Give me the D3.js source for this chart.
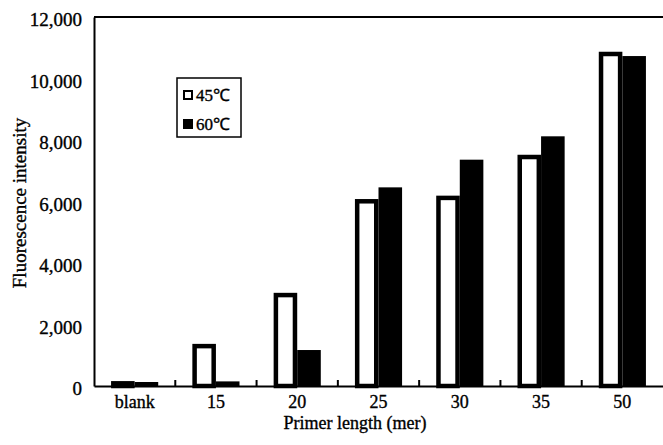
<!DOCTYPE html>
<html lang="en">
<head>
<meta charset="UTF-8">
<title>Fluorescence intensity vs primer length</title>
<script src="https://cdn.jsdelivr.net/npm/d3@7"></script>
<style>
    body { margin: 0; background: #fff; }
    svg { display: block; }
    text { font-family: "Liberation Serif", "Times New Roman", serif; fill: #000; stroke: #000; stroke-width: 0.35px; }
    .axis path, .axis line { stroke: #000; stroke-width: 2px; }
</style>
</head>
<body>
<svg id="chart" width="663" height="445"></svg>
<script>
// data
const categories = ["blank", "15", "20", "25", "30", "35", "50"];
const series = ["45℃", "60℃"];
const values45 = [160, 1370, 3030, 6080, 6190, 7520, 10870];
const values60 = [130, 150, 1170, 6460, 7360, 8120, 10730];
const yTicks = [0, 2000, 4000, 6000, 8000, 10000, 12000];

const serif = "'Liberation Serif', 'Times New Roman', serif";

const margin = { top: 17, right: 0, bottom: 59, left: 94 },
      width = 663 - margin.left - margin.right,
      height = 445 - margin.top - margin.bottom;

const svg = d3.select("#chart");
const g = svg.append("g").attr("transform", `translate(${margin.left},${margin.top})`);

const x = d3.scaleBand().domain(categories).range([0, width]).padding(0);
const bw = x.bandwidth();
const x1 = d3.scaleBand().domain(series).range([bw * 0.21, bw * 0.79]).padding(0);
const y = d3.scaleLinear().domain([0, 12000]).range([height, 0]);

const rows = categories.map((c, i) => ({ cat: c, vals: [values45[i], values60[i]] }));

// top frame line
g.append("line")
    .attr("x1", 0).attr("x2", width)
    .attr("y1", 0).attr("y2", 0)
    .attr("stroke", "#000").attr("stroke-width", 2);

// bars
const sw = 4.5;
const groups = g.selectAll(".grp").data(rows).enter().append("g")
    .attr("transform", d => `translate(${x(d.cat)},0)`);

groups.selectAll("rect")
    .data(d => d.vals.map((v, j) => ({ s: series[j], v: v, j: j })))
    .enter().append("rect")
    .attr("x", d => d.j === 0 ? x1(d.s) + sw / 2 : x1(d.s))
    .attr("width", d => d.j === 0 ? x1.bandwidth() - sw : x1.bandwidth())
    .attr("y", d => d.j === 0 ? y(d.v) + sw / 2 : y(d.v))
    .attr("height", d => d.j === 0 ? Math.max(0, height - y(d.v) - sw / 2) : height - y(d.v))
    .attr("fill", d => d.j === 0 ? "#fff" : "#000")
    .attr("stroke", d => d.j === 0 ? "#000" : "none")
    .attr("stroke-width", sw);

// y axis
const yAxis = g.append("g").attr("class", "axis")
    .call(d3.axisLeft(y).tickValues(yTicks).tickFormat(d3.format(",")).tickSize(0).tickPadding(12));
yAxis.selectAll("text")
    .attr("dy", "0.45em")
    .style("font-family", serif)
    .style("font-size", "19px");

// x axis with small inward ticks between categories
const xAxis = g.append("g").attr("class", "axis")
    .attr("transform", `translate(0,${height})`)
    .call(d3.axisBottom(x).tickSize(0).tickPadding(9));
xAxis.selectAll("text")
    .style("font-family", serif)
    .style("font-size", "18px");

g.selectAll(".sep").data(categories.slice(1)).enter().append("line")
    .attr("x1", d => x(d)).attr("x2", d => x(d))
    .attr("y1", height).attr("y2", height - 6)
    .attr("stroke", "#000").attr("stroke-width", 2);

// axis titles
svg.append("text")
    .attr("x", 355).attr("y", 429)
    .attr("text-anchor", "middle")
    .style("font-family", serif)
    .style("font-size", "18px")
    .text("Primer length (mer)");

svg.append("text")
    .attr("transform", "translate(26,203) rotate(-90)")
    .attr("text-anchor", "middle")
    .style("font-family", serif)
    .style("font-size", "19px")
    .text("Fluorescence intensity");

// legend
const legend = svg.append("g").attr("transform", "translate(177,78)");
legend.append("rect")
    .attr("width", 64).attr("height", 59)
    .attr("fill", "#fff").attr("stroke", "#000").attr("stroke-width", 1.5);
series.forEach((s, i) => {
    const row = legend.append("g").attr("transform", `translate(6,${12 + i * 29})`);
    row.append("rect")
        .attr("x", i === 0 ? 1 : 0).attr("y", i === 0 ? 1 : 0)
        .attr("width", i === 0 ? 8 : 10).attr("height", i === 0 ? 8 : 10)
        .attr("fill", i === 0 ? "#fff" : "#000")
        .attr("stroke", i === 0 ? "#000" : "none")
        .attr("stroke-width", 2);
    row.append("text")
        .attr("x", 13).attr("y", 5).attr("dy", "0.35em")
        .style("font-family", serif)
        .style("font-size", "17px")
        .text(s);
});
</script>
</body>
</html>
